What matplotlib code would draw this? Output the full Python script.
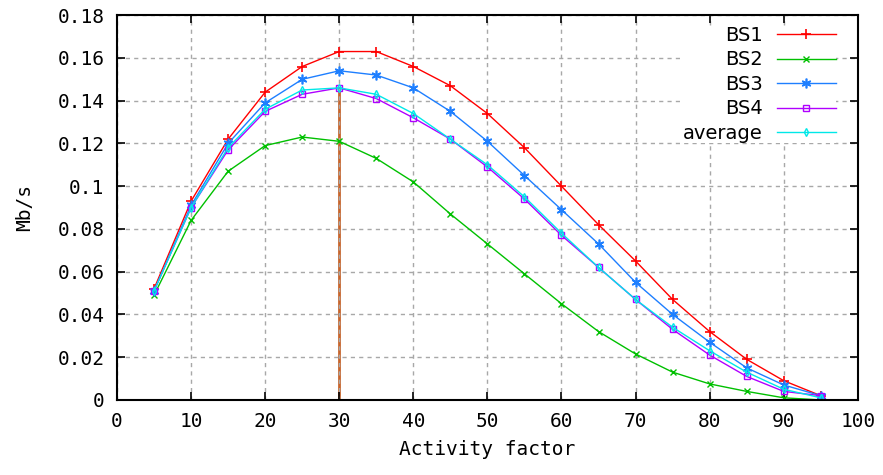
import numpy as np
import matplotlib
matplotlib.use('Agg')
import matplotlib.pyplot as plt

x = [5, 10, 15, 20, 25, 30, 35, 40, 45, 50, 55, 60, 65, 70, 75, 80, 85, 90, 95]
bs1 = [0.052, 0.093, 0.122, 0.144, 0.156, 0.163, 0.163, 0.156, 0.147, 0.134,
       0.118, 0.100, 0.082, 0.065, 0.047, 0.032, 0.019, 0.009, 0.002]
bs2 = [0.049, 0.084, 0.107, 0.119, 0.123, 0.121, 0.113, 0.102, 0.087, 0.073,
       0.059, 0.045, 0.032, 0.0215, 0.013, 0.0075, 0.004, 0.001, 0.000]
bs3 = [0.051, 0.091, 0.120, 0.139, 0.150, 0.154, 0.152, 0.146, 0.135, 0.121,
       0.105, 0.089, 0.073, 0.055, 0.040, 0.027, 0.015, 0.007, 0.002]
bs4 = [0.051, 0.090, 0.117, 0.135, 0.143, 0.146, 0.141, 0.132, 0.122, 0.109,
       0.094, 0.077, 0.062, 0.047, 0.033, 0.021, 0.011, 0.004, 0.002]
avg = [0.051, 0.090, 0.118, 0.136, 0.145, 0.146, 0.143, 0.134, 0.122, 0.110,
       0.095, 0.078, 0.062, 0.047, 0.034, 0.023, 0.013, 0.005, 0.001]
marker_x = 30
marker_top = 0.146

mono = 'DejaVu Sans Mono'
fig = plt.figure(figsize=(8.83, 4.75), dpi=100)
ax = fig.add_axes([0.1325, 0.158, 0.839, 0.81])

ax.plot([marker_x, marker_x], [0, marker_top], color='#c8642a', lw=2, zorder=1)
ax.plot(x, bs1, color='#ff0000', marker='+', ms=7, mew=1.2, lw=1, label='BS1')
ax.plot(x, bs2, color='#00c000', marker='x', ms=5, mew=1, lw=1, label='BS2')
ax.plot(x, bs3, color='#1e7fff', marker=(6, 2, 0), ms=7, mew=1.2, lw=1, label='BS3')
ax.plot(x, bs4, color='#b000ff', marker='s', ms=5, mfc='none', mew=1, lw=1, label='BS4')
ax.plot(x, avg, color='#00e8e8', marker='d', ms=4, mfc='none', mew=1, lw=1, label='average')

ax.set_xlim(0, 100)
ax.set_ylim(0, 0.18)
ax.set_xticks(range(0, 101, 10))
ax.set_yticks(np.arange(0, 0.181, 0.02))
ax.set_yticklabels(['0', '0.02', '0.04', '0.06', '0.08', '0.1', '0.12', '0.14', '0.16', '0.18'])
ax.grid(True, color='#a8a8a8', ls=(0, (3, 3)), lw=1)
ax.tick_params(direction='in', top=True, right=True, length=6, width=1.2, labelsize=14, pad=9)
for lab in ax.get_xticklabels() + ax.get_yticklabels():
    lab.set_fontfamily(mono)
for s in ax.spines.values():
    s.set_linewidth(1.5)
ax.set_xlabel('Activity factor', family=mono, fontsize=14, labelpad=6)
ax.set_ylabel('Mb/s', family=mono, fontsize=14, labelpad=17)

leg = ax.legend(loc='upper right', bbox_to_anchor=(0.970, 0.972), frameon=True,
                markerfirst=False, fontsize=14, handlelength=3.0, handletextpad=0.75,
                labelspacing=0.28, borderaxespad=0, borderpad=0, fancybox=False)
leg.get_frame().set_facecolor('white')
leg.get_frame().set_edgecolor('none')
leg.get_frame().set_alpha(1)
for t in leg.get_texts():
    t.set_ha('right')

fig.savefig('out.png', dpi=100)
